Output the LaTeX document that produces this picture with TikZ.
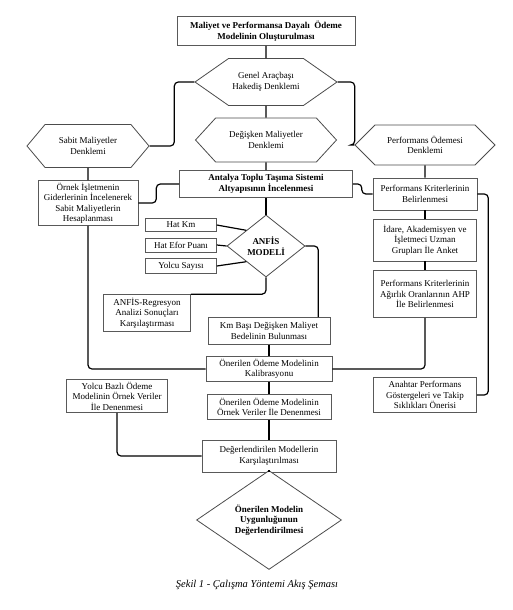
\documentclass[tikz,border=0pt]{standalone}
\usepackage{fontspec}
\setmainfont{Liberation Serif}
\usetikzlibrary{shapes.geometric,shapes.symbols}

\tikzset{
  box/.style={draw=black!65, line width=0.6pt, fill=white, align=center,
    inner sep=1pt, font=\fontsize{9}{10.5}\selectfont},
  hexa/.style={signal, signal to=west and east, draw=black!70, line width=0.8pt,
    fill=white, align=center, inner sep=1pt, font=\fontsize{9}{10.5}\selectfont},
  dmnd/.style={diamond, draw=black!70, line width=0.8pt, fill=white, align=center,
    inner sep=0pt, font=\bfseries\fontsize{9}{10.5}\selectfont},
  link/.style={line width=1.2pt, rounded corners=4pt},
}

\begin{document}
\begin{tikzpicture}[x=1pt, y=-1pt]
\useasboundingbox (0,0) rectangle (512,610);
% top of the chart
\node[box, minimum width=178pt, minimum height=29pt, font=\bfseries\fontsize{9}{10.5}\selectfont]
  (title) at (266,31) {Maliyet ve Performansa Dayalı~ Ödeme\\Modelinin Oluşturulması};
\node[hexa, minimum width=142pt, minimum height=47pt, signal pointer angle=70]
  (genel) at (266,82) {Genel Araçbaşı\\Hakediş Denklemi};
\node[hexa, minimum width=122pt, minimum height=43pt, signal pointer angle=100]
  (sabit) at (88,146) {Sabit Maliyetler\\Denklemi};
\node[hexa, minimum width=141pt, minimum height=44pt, signal pointer angle=95]
  (degisken) at (266,140) {Değişken Maliyetler\\Denklemi};
\node[hexa, minimum width=140pt, minimum height=40pt, signal pointer angle=90]
  (perfod) at (425,145) {Performans Ödemesi\\Denklemi};
% second row
\node[box, minimum width=173pt, minimum height=27pt, font=\bfseries\fontsize{9}{10.5}\selectfont]
  (antalya) at (266,184) {Antalya Toplu Taşıma Sistemi\\Altyapısının İncelenmesi};
\node[box, minimum width=100pt, minimum height=45pt]
  (ornek) at (88,203) {Örnek İşletmenin\\Giderlerinin İncelenerek\\Sabit Maliyetlerin\\Hesaplanması};
\node[box, minimum width=104pt, minimum height=32pt]
  (perfkrit) at (425,194) {Performans Kriterlerinin\\Belirlenmesi};
\node[box, minimum width=103pt, minimum height=42pt]
  (idare) at (425,240) {İdare, Akademisyen ve\\İşletmeci Uzman\\Grupları İle Anket};
\node[box, minimum width=103pt, minimum height=47pt]
  (ahp) at (425,294) {Performans Kriterlerinin\\Ağırlık Oranlarının AHP\\İle Belirlenmesi};
\node[box, minimum width=103pt, minimum height=35pt]
  (anahtar) at (425,395) {Anahtar Performans\\Göstergeleri ve Takip\\Sıklıkları Önerisi};
% ANFIS part
\node[dmnd, minimum width=78pt, minimum height=62pt]
  (anfis) at (266,246) {ANFİS\\MODELİ};
\node[box, minimum width=71pt, minimum height=13pt] (hatkm) at (181,225) {Hat Km};
\node[box, minimum width=71pt, minimum height=14pt] (efor) at (181,245) {Hat Efor Puanı};
\node[box, minimum width=71pt, minimum height=15pt] (yolcu) at (181,266) {Yolcu Sayısı};
\node[box, minimum width=87pt, minimum height=37pt]
  (anfisreg) at (147,313) {ANFİS-Regresyon\\Analizi Sonuçları\\Karşılaştırması};
\node[box, minimum width=122pt, minimum height=27pt]
  (kmbasi) at (269,331) {Km Başı Değişken Maliyet\\Bedelinin Bulunması};
% lower part
\node[box, minimum width=126pt, minimum height=25pt]
  (kalib) at (269,369) {Önerilen Ödeme Modelinin\\Kalibrasyonu};
\node[box, minimum width=124pt, minimum height=25pt]
  (ornekver) at (269,407) {Önerilen Ödeme Modelinin\\Örnek Veriler İle Denenmesi};
\node[box, minimum width=101pt, minimum height=33pt]
  (yolcubaz) at (117,396) {Yolcu Bazlı Ödeme\\Modelinin Örnek Veriler\\İle Denenmesi};
\node[box, minimum width=134pt, minimum height=32pt]
  (degerlen) at (269,456) {Değerlendirilen Modellerin\\Karşılaştırılması};
\node[dmnd, minimum width=145pt, minimum height=65pt]
  (sonuc) at (269,520) {Önerilen Modelin\\Uygunluğunun\\Değerlendirilmesi};
\node[font=\itshape\fontsize{10.5}{12}\selectfont] (caption) at (257,585)
  {Şekil 1 - Çalışma Yöntemi Akış Şeması};

% connectors
\draw[link] (title) -- (genel);
\draw[link] (genel.west) -- ++(-20,0) |- (sabit.east);
\draw[link] (genel.east) -- ++(17,0) |- (perfod.west);
\draw[link] (genel) -- (degisken);
\draw[link] (degisken) -- (antalya);
\draw[link] (sabit) -- (ornek);
\draw[link] (ornek.east) -- ++(18,0) |- (antalya.west);
\draw[link] (antalya.east) -- ++(9,0) |- (perfkrit.west);
\draw[link] (perfod) -- (perfkrit);
\draw[link] (perfkrit) -- (idare);
\draw[link] (idare) -- (ahp);
\draw[link] (ahp.south) |- (kalib.east);
\draw[link] (perfkrit.east) -- ++(11,0) |- (anahtar.east);
\draw[link] (ornek.south) |- (kalib.west);
\draw[link] (antalya) -- (anfis);
\draw[link] (hatkm.east) -- (anfis.north west);
\draw[link] (efor.east) -- (anfis.west);
\draw[link] (yolcu.east) -- (anfis.south west);
\draw[link] (anfis.south) |- (anfisreg.north east);
\draw[link] (anfis.east) -| ([xshift=-12pt]kmbasi.north east);
\draw[link] (kmbasi) -- (kalib);
\draw[link] (kalib) -- (ornekver);
\draw[link] (ornekver) -- (degerlen);
\draw[link] (yolcubaz.south) |- (degerlen.west);
\draw[link] (degerlen) -- (sonuc);
\end{tikzpicture}
\end{document}
